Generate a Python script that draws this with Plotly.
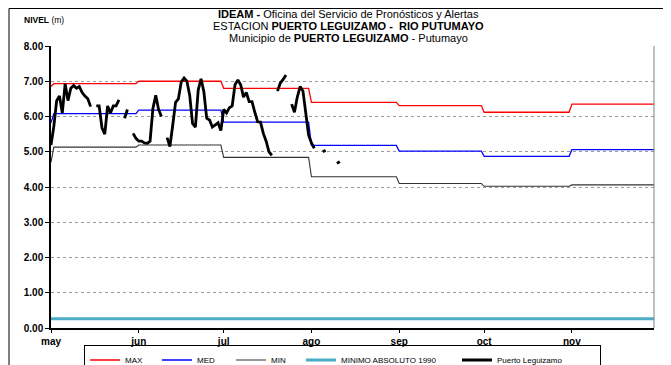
import plotly.graph_objects as go
import pandas as pd

# ---------------- data ----------------
step_dates = ["2010-05-01", "2010-05-02", "2010-05-31", "2010-06-01", "2010-06-30",
              "2010-07-01", "2010-07-31", "2010-08-01", "2010-08-31", "2010-09-01",
              "2010-09-30", "2010-10-01", "2010-10-31", "2010-11-01", "2010-11-30"]
max_vals = [6.85, 6.93, 6.93, 7.00, 7.00, 6.80, 6.80, 6.40, 6.40, 6.31, 6.31, 6.12, 6.12, 6.35, 6.35]
med_vals = [5.82, 6.08, 6.08, 6.18, 6.18, 5.84, 5.84, 5.18, 5.18, 5.02, 5.02, 4.87, 4.87, 5.06, 5.06]
min_vals = [4.70, 5.13, 5.13, 5.19, 5.19, 4.84, 4.84, 4.29, 4.29, 4.10, 4.10, 4.02, 4.02, 4.06, 4.06]

abs_dates = ["2010-05-01", "2010-11-30"]
abs_vals = [0.26, 0.26]

nivel_start = "2010-05-01"
nivel_vals = [5.19, 5.72, 6.45, 6.58, 6.10, 6.93, 6.45, 6.80, 6.88, 6.80,
              6.85, 6.68, 6.58, 6.50, 6.28, None, 6.30, 6.30, 5.68, 5.50,
              6.30, 6.10, 6.30, 6.30, 6.47, None, 5.95, 6.20, None, 5.52,
              5.38, 5.30, 5.30, 5.25, 5.24, 5.30, 6.23, 6.60, 6.20, 6.00,
              None, 5.40, 5.15, 5.75, 6.40, 6.50, 6.98, 7.09, 7.00, 6.60,
              5.80, 5.70, 6.75, 7.07, 6.70, 5.95, 5.90, 5.70, 5.75, 5.82,
              5.60, 6.20, 6.10, 6.25, 6.30, 6.90, 7.04, 6.90, 6.55, 6.68,
              6.42, 6.42, 6.12, 5.85, 5.84, 5.52, 5.30, 5.00, 4.90, None,
              6.72, 6.95, 7.05, 7.18, None, 6.35, 6.12, 6.55, 6.85, 6.72,
              6.15, 5.47, 5.25, 5.10, None, None, 5.00, 5.04, None, None,
              None, 4.67, 4.72]
nivel_dates = pd.date_range(nivel_start, periods=len(nivel_vals), freq="D")

month_ticks = ["2010-05-01", "2010-06-01", "2010-07-01", "2010-08-01",
               "2010-09-01", "2010-10-01", "2010-11-01"]
month_labels = ["may", "jun", "jul", "ago", "sep", "oct", "nov"]

# ---------------- figure ----------------
NARROW = "Liberation Sans Narrow, Arial Narrow, Liberation Sans, Arial, sans-serif"
ARIAL = "Liberation Sans, Arial, sans-serif"

fig = go.Figure()
fig.add_trace(go.Scatter(x=step_dates, y=max_vals, mode="lines", name="MAX",
                         line=dict(color="#FF0000", width=1.3), legendwidth=27))
fig.add_trace(go.Scatter(x=step_dates, y=med_vals, mode="lines", name="MED",
                         line=dict(color="#0000FF", width=1.3), legendwidth=29))
fig.add_trace(go.Scatter(x=step_dates, y=min_vals, mode="lines", name="MIN",
                         line=dict(color="#333333", width=1.1), legendwidth=25))
fig.add_trace(go.Scatter(x=abs_dates, y=abs_vals, mode="lines", name="MINIMO ABSOLUTO 1990",
                         line=dict(color="#4BACC6", width=3), legendwidth=111))
fig.add_trace(go.Scatter(x=nivel_dates, y=nivel_vals, mode="lines", name="Puerto Leguizamo",
                         line=dict(color="#000000", width=2.8), connectgaps=False,
                         legendwidth=98))

# the page body has an 8px margin, so the figure origin sits at window (8, 8)
OFF = 8
WIN_W, WIN_H = 671, 365
W, H = WIN_W - OFF, WIN_H - OFF
# plot area in window pixels
PL, PR, PT, PB = 51, 654, 46, 328
L, R, T, B = PL - OFF, W - (PR - OFF), PT - OFF, H - (PB - OFF)
pw, ph = W - L - R, H - T - B


def px_x(x):
    """window pixel x -> paper coordinate"""
    return (x - OFF - L) / pw


def px_y(y):
    """window pixel y -> paper coordinate"""
    return (H - B - (y - OFF)) / ph


fig.update_layout(
    width=W, height=H,
    margin=dict(l=L, r=R, t=T, b=B, autoexpand=False),
    paper_bgcolor="white", plot_bgcolor="white",
    showlegend=True,
    legend=dict(orientation="h", x=px_x(84), xanchor="left", y=px_y(344.5), yanchor="top",
                bordercolor="black", borderwidth=1, bgcolor="rgba(255,255,255,0)",
                font=dict(family=NARROW, size=8, color="black"),
                itemwidth=30, tracegroupgap=0),
    xaxis=dict(type="date", range=["2010-05-01", "2010-11-30"],
               tickvals=month_ticks, ticktext=month_labels,
               showgrid=False, zeroline=False,
               showline=True, linecolor="black", linewidth=1.5,
               ticks="outside", ticklen=3, tickcolor="black",
               tickfont=dict(family=ARIAL, size=10, color="black", weight="bold")),
    yaxis=dict(range=[0, 8], dtick=1, tickformat=".2f",
               showgrid=True, gridcolor="#9a9a9a", griddash="dot", gridwidth=1,
               zeroline=False, showline=True, linecolor="black", linewidth=1.5,
               ticks="outside", ticklen=4, tickcolor="black",
               tickfont=dict(family=ARIAL, size=10, color="black", weight="bold")),
)

# plot-area right border and outer chart frame
fig.add_shape(type="line", xref="paper", yref="paper", x0=1, x1=1, y0=0, y1=1,
              line=dict(color="#808080", width=1))
fig.add_shape(type="rect", xref="paper", yref="paper",
              x0=px_x(9), x1=px_x(665), y0=px_y(380), y1=px_y(8.5),
              line=dict(color="black", width=1), layer="below")

# titles
fig.add_annotation(xref="paper", yref="paper", x=px_x(348), y=px_y(14), showarrow=False,
                   xanchor="center", yanchor="middle",
                   text="<b>IDEAM - </b>Oficina del Servicio de Pronósticos y Alertas",
                   font=dict(family=NARROW, size=11, color="black"))
fig.add_annotation(xref="paper", yref="paper", x=px_x(348), y=px_y(26), showarrow=False,
                   xanchor="center", yanchor="middle",
                   text="ESTACION <b>PUERTO LEGUIZAMO -  RIO PUTUMAYO</b>",
                   font=dict(family=NARROW, size=11, color="black"))
fig.add_annotation(xref="paper", yref="paper", x=px_x(348), y=px_y(38), showarrow=False,
                   xanchor="center", yanchor="middle",
                   text="Municipio de <b>PUERTO LEGUIZAMO</b> - Putumayo",
                   font=dict(family=NARROW, size=11, color="black"))
fig.add_annotation(xref="paper", yref="paper", x=px_x(22), y=px_y(20), showarrow=False,
                   xanchor="left", yanchor="middle",
                   text="<b>NIVEL</b> (m)",
                   font=dict(family=NARROW, size=8.5, color="black"))

fig.write_html("out.html")
